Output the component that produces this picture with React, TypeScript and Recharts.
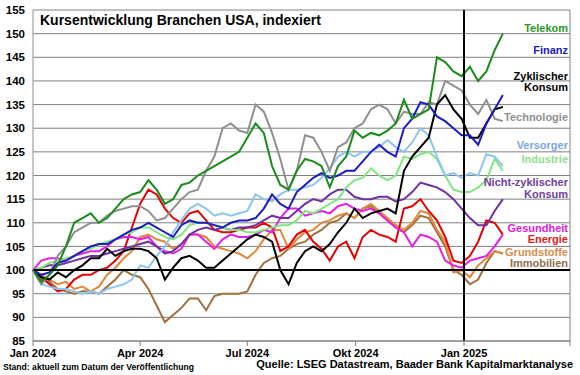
import { CartesianGrid, Line, LineChart, ReferenceLine, XAxis, YAxis } from "recharts";

const FONT = "Arial, 'Liberation Sans', sans-serif";

// weekly values, index 100 = start of Jan 2024
const telekom = [100, 97.5, 99, 101, 105, 110, 111, 112, 110, 111, 113, 115, 116, 116.5, 119, 117, 114, 115, 118, 118.5, 120, 121, 122, 123, 124, 125, 128, 131, 129, 122, 118, 117, 121, 123.5, 123, 122, 117.5, 122, 124, 129.5, 128, 129, 128.5, 129.5, 131, 136, 132, 133, 134, 145, 144, 142, 141, 143, 140, 142, 146.5, 150];
const technologie = [100, 97, 99, 103, 105, 108, 109, 110, 110, 111.5, 112.5, 113, 113.5, 113.5, 112.5, 110.5, 111, 113, 115, 116.5, 117, 121, 124, 130, 131, 129.5, 129, 135, 133.5, 129, 123.5, 117, 121, 128.5, 128, 125, 121, 126, 127, 130, 131, 134, 135, 134, 131, 133.5, 133, 133, 135.5, 135, 140, 139, 138, 135, 133, 136, 132, 131.5];
const finanz = [100, 99, 99.5, 101.5, 102, 103, 104, 105, 105.5, 105.5, 106.5, 107.5, 108.5, 109, 110, 109, 108, 107, 109.5, 110.5, 110, 110, 109.5, 109, 110, 110.5, 110.5, 111, 113, 116, 114, 113, 116.5, 118, 119.5, 120.5, 119.5, 120, 121, 121, 123, 125, 126.5, 125, 124, 130, 132, 135.5, 135, 132.5, 131.5, 130, 128.5, 128.5, 126.5, 131, 134, 137];
const zyklisch = [100, 98.5, 98, 99.5, 98.5, 100, 101, 102.5, 102.5, 104.5, 103, 104, 104.5, 104.5, 104, 102.5, 98, 100.5, 102.5, 103, 102, 100.5, 100.5, 102, 103.5, 105, 106.5, 107.5, 107, 106, 100, 97, 101.5, 104, 105, 104, 105.5, 108, 110, 113, 111, 112, 112.5, 113, 112, 121, 124, 126, 128, 135, 137, 134, 132, 128, 128, 131, 134, 134.5];
const versorger = [100, 97, 96.5, 96, 96, 95.5, 95, 95.5, 95, 96, 96.5, 97, 98, 101, 100.5, 103, 105, 108, 110.5, 113, 114, 113, 111.5, 112, 111.5, 112, 112.5, 116, 115, 114.5, 116, 117, 117, 117.5, 118, 119.5, 121.5, 124, 125, 124, 125, 125, 126, 127.5, 126, 125, 127, 130, 128.5, 124, 120, 120.5, 119.5, 120.5, 120, 124.5, 124, 122];
const industrie = [100, 100.5, 101.5, 102, 102.5, 103, 104, 104.5, 105.5, 106, 106.5, 107.5, 108, 109, 109, 108, 107, 106.5, 107.5, 109.5, 110, 110, 109.5, 109, 108.5, 108.5, 108, 108, 108.5, 109, 109.5, 109.5, 110.5, 112.5, 112, 113, 114, 115, 117.5, 119, 119.5, 121.5, 120, 119, 120, 124, 123.5, 124.5, 125, 123.5, 120, 117, 116.5, 116.5, 117.5, 119, 123.5, 121];
const nichtZyklisch = [100, 100.5, 101, 101, 101.5, 102, 102.5, 103, 103, 103.5, 104, 104.5, 105, 105.5, 106, 105, 103.5, 104, 105.5, 107.5, 108.5, 109, 108.5, 109, 108.5, 109, 109, 109.5, 110.5, 111.5, 111, 111, 112.5, 114, 115, 114.5, 116, 117, 117, 115.5, 115, 115, 115.5, 115.5, 114.5, 115, 116.5, 118.5, 118, 117.5, 116.5, 115, 113, 111, 109.5, 109.5, 112.5, 115];
const gesundheit = [100, 102, 102.5, 102.5, 102, 103, 103.5, 104, 104, 105, 106.5, 107, 107, 106.5, 107, 105, 104, 103.5, 104.5, 107.5, 107.5, 106, 104.5, 106.5, 107.5, 107, 107, 107.5, 108.5, 108, 111, 113, 113, 111.5, 112, 112.5, 112, 113.5, 114, 113, 112.5, 113, 112, 110.5, 109, 108, 105, 107.5, 107, 106, 102, 101, 100.5, 102, 102.5, 103, 105, 107.5];
const energie = [100, 98.5, 97, 95.5, 96, 98, 99, 99, 100, 100.5, 102, 104, 109, 114, 117, 116, 113, 111, 110, 112, 112.5, 110.5, 108.5, 108, 108, 108.5, 109, 109, 110, 109, 104, 105, 107.5, 108.5, 106, 104.5, 102, 105, 106, 102.5, 107, 108.5, 107.5, 107, 106, 113, 113.5, 115, 112.5, 110.5, 107, 102, 101.5, 103, 106, 110.5, 110, 107.5];
const grundstoffe = [100, 99, 98, 97, 97.5, 96, 96.5, 95.5, 96.5, 99, 100.5, 102.5, 104, 107, 107.5, 106.5, 106, 104.5, 105.5, 107.5, 107.5, 107, 105, 104.5, 104, 103.5, 102.5, 104, 106.5, 108.5, 108.5, 104.5, 106.5, 108, 108.5, 110, 110.5, 111.5, 112, 111, 113, 114, 112.5, 111, 109.5, 108.5, 110, 112.5, 112, 108.5, 106, 99.5, 100, 98.5, 101, 102.5, 104, 103.5];
const immobilien = [100, 98, 97.5, 96, 95.5, 95, 95.5, 95.5, 95, 96.5, 98, 100, 99, 98.5, 96, 92.5, 89, 90.5, 92, 94, 94, 91.5, 94.5, 95, 95, 95, 95.5, 99, 101.5, 102.5, 103, 104.5, 105.5, 106, 107.5, 108.5, 110, 110.5, 112, 111, 113, 113.5, 112, 110.5, 109, 108, 109.5, 111.5, 111, 108, 105, 100, 99, 97, 98, 101.5, 104, 103.5];

// days since 1 Jan 2024
const days = telekom.map((_, i) => i * 7);
const xTicks = [0, 91, 182, 274, 366, 456];
const xTickLabels = ["Jan 2024", "Apr 2024", "Jul 2024", "Okt 2024", "Jan 2025", ""];
const yTicks = [85, 90, 95, 100, 105, 110, 115, 120, 125, 130, 135, 140, 145, 150, 155];

const series = [
  { key: "immobilien", values: immobilien, color: "#a0703c" },
  { key: "grundstoffe", values: grundstoffe, color: "#e0873a" },
  { key: "energie", values: energie, color: "#e60000" },
  { key: "gesundheit", values: gesundheit, color: "#e61ee6" },
  { key: "nichtZyklisch", values: nichtZyklisch, color: "#7030a0" },
  { key: "industrie", values: industrie, color: "#80e680" },
  { key: "versorger", values: versorger, color: "#8cc4f2" },
  { key: "technologie", values: technologie, color: "#8f8f8f" },
  { key: "zyklisch", values: zyklisch, color: "#000000" },
  { key: "finanz", values: finanz, color: "#1c1cc0" },
  { key: "telekom", values: telekom, color: "#1a8c1a" },
];

const labels = [
  { text: "Telekom", color: "#2a9a2a", y: 28 },
  { text: "Finanz", color: "#2020c0", y: 50 },
  { text: "Zyklischer", color: "#000000", y: 76 },
  { text: "Konsum", color: "#000000", y: 87 },
  { text: "Technologie", color: "#909090", y: 117 },
  { text: "Versorger", color: "#7aa6e6", y: 145 },
  { text: "Industrie", color: "#8ee08e", y: 159 },
  { text: "Nicht-zyklischer", color: "#7040a0", y: 182 },
  { text: "Konsum", color: "#7040a0", y: 194 },
  { text: "Gesundheit", color: "#e020e0", y: 228 },
  { text: "Energie", color: "#e02020", y: 239 },
  { text: "Grundstoffe", color: "#d98c4a", y: 252 },
  { text: "Immobilien", color: "#8c7050", y: 263 },
];

const data = days.map((day, i) => {
  const row: Record<string, number> = { day };
  series.forEach((s) => (row[s.key] = s.values[i]));
  return row;
});

export default function App() {
  return (
    <div style={{ position: "relative", width: 580, height: 375, overflow: "hidden", background: "#fff", fontFamily: FONT }}>
      <style>{"body{margin:0}"}</style>
      <LineChart width={580} height={375} data={data} margin={{ top: 10, right: 10, left: 0, bottom: 14 }}>
        <CartesianGrid vertical={false} stroke="#808080" strokeWidth={1} />
        <XAxis
          dataKey="day"
          type="number"
          domain={[0, 456]}
          ticks={xTicks}
          tickFormatter={(v) => xTickLabels[xTicks.indexOf(v)] ?? ""}
          tick={{ fontSize: 11, fontWeight: "bold", fill: "#000", fontFamily: FONT }}
          tickSize={5}
          tickMargin={3}
          tickLine={{ stroke: "#808080" }}
          axisLine={{ stroke: "#808080" }}
          height={20}
          interval={0}
        />
        <YAxis
          domain={[85, 155]}
          ticks={yTicks}
          width={33}
          tick={{ fontSize: 11.5, fontWeight: "bold", fill: "#000", fontFamily: FONT }}
          tickLine={false}
          tickSize={6}
          axisLine={{ stroke: "#909090" }}
          interval={0}
        />
        <ReferenceLine x={456} stroke="#808080" />
        {series.map((s) => (
          <Line
            key={s.key}
            type="linear"
            dataKey={s.key}
            stroke={s.color}
            strokeWidth={2}
            dot={false}
            isAnimationActive={false}
          />
        ))}
        <ReferenceLine y={100} stroke="#000" strokeWidth={2} />
        <ReferenceLine x={366} stroke="#000" strokeWidth={2} />
      </LineChart>
      <div style={{ position: "absolute", left: 40, top: 12, fontSize: 14, lineHeight: "16px", fontWeight: "bold" }}>
        Kursentwicklung Branchen USA, indexiert
      </div>
      {labels.map((l, i) => (
        <div
          key={i}
          style={{
            position: "absolute",
            right: 12,
            top: l.y - 6,
            fontSize: 11,
            lineHeight: "12px",
            fontWeight: "bold",
            color: l.color,
            whiteSpace: "nowrap",
          }}
        >
          {l.text}
        </div>
      ))}
      <div style={{ position: "absolute", left: 3, top: 362, fontSize: 8.6, lineHeight: "10px", fontWeight: "bold", whiteSpace: "nowrap" }}>
        Stand: aktuell zum Datum der Veröffentlichung
      </div>
      <div style={{ position: "absolute", right: 7, top: 358, fontSize: 11, lineHeight: "12px", fontWeight: "bold", whiteSpace: "nowrap" }}>
        Quelle: LSEG Datastream, Baader Bank Kapitalmarktanalyse
      </div>
    </div>
  );
}
